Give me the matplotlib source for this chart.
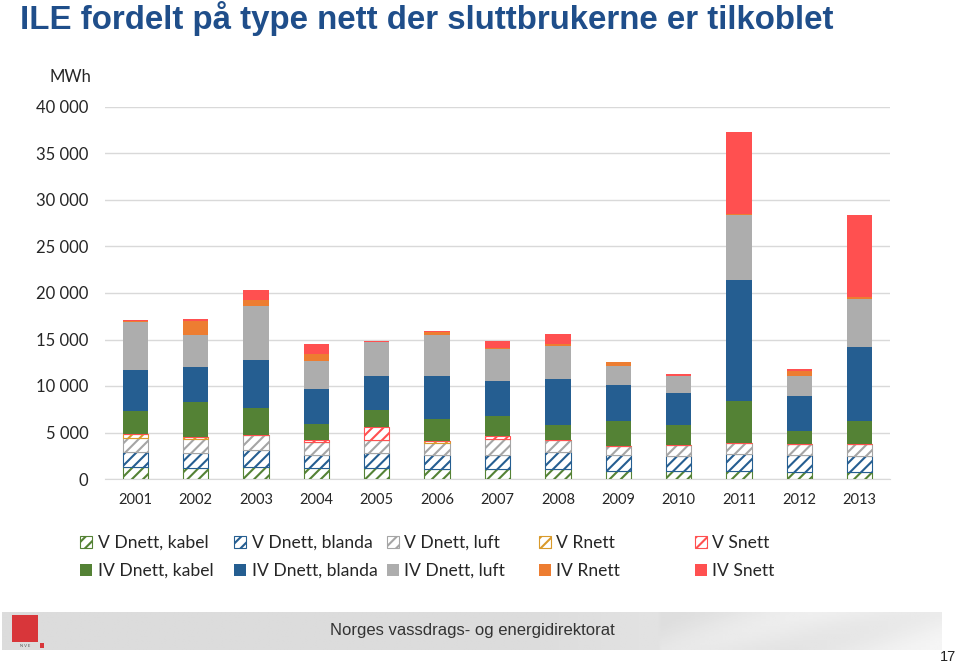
import numpy as np
import matplotlib
matplotlib.use("Agg")
from matplotlib import pyplot as plt
from matplotlib.patches import Rectangle
from matplotlib.ticker import FuncFormatter

# data (MWh)
years = ['2001', '2002', '2003', '2004', '2005', '2006', '2007',
         '2008', '2009', '2010', '2011', '2012', '2013']

v_kabel = [1290, 1210, 1320, 1180, 1210, 1040, 1040, 1110, 820, 860, 860, 720, 720]
v_blanda = [1570, 1570, 1750, 1390, 1540, 1570, 1570, 1820, 1710, 1610, 1790, 1860, 1720]
v_luft = [1570, 1570, 1610, 1360, 1390, 1290, 1640, 1210, 1070, 1180, 1250, 1180, 1320]
v_rnett = [360, 210, 0, 0, 0, 210, 0, 0, 0, 0, 0, 0, 0]
v_snett = [0, 0, 0, 210, 1430, 0, 390, 0, 0, 0, 0, 0, 0]

iv_kabel = [2500, 3710, 2960, 1750, 1820, 2290, 2140, 1710, 2640, 2110, 4510, 1430, 2430]
iv_blanda = [4390, 3790, 5110, 3790, 3680, 4680, 3750, 4860, 3820, 3440, 12960, 3690, 7950]
iv_luft = [5200, 3460, 5890, 2960, 3610, 4390, 3460, 3540, 2140, 1900, 6980, 2150, 5260]
iv_rnett = [80, 1420, 640, 750, 0, 320, 100, 250, 390, 0, 180, 610, 180]
iv_snett = [160, 290, 1040, 1140, 180, 110, 710, 1040, 0, 140, 8800, 210, 8810]

series = [
    ('V Dnett, kabel', v_kabel, '#548235', True),
    ('V Dnett, blanda', v_blanda, '#255E91', True),
    ('V Dnett, luft', v_luft, '#A5A5A5', True),
    ('V Rnett', v_rnett, '#D99A2B', True),
    ('V Snett', v_snett, '#FF5050', True),
    ('IV Dnett, kabel', iv_kabel, '#548235', False),
    ('IV Dnett, blanda', iv_blanda, '#255E91', False),
    ('IV Dnett, luft', iv_luft, '#ADADAD', False),
    ('IV Rnett', iv_rnett, '#ED7D31', False),
    ('IV Snett', iv_snett, '#FF5050', False),
]

plt.rcParams['font.family'] = ['Lato', 'DejaVu Sans']
plt.rcParams['hatch.linewidth'] = 1.5

fig = plt.figure(figsize=(9.6, 6.65), dpi=100)
ax = fig.add_axes([105 / 960, 1 - 479 / 665, 785 / 960, 372 / 665])

x = np.arange(len(years))
bottom = np.zeros(len(years))
handles = []
for label, vals, col, hatched in series:
    vals = np.array(vals, dtype=float)
    if hatched:
        b = ax.bar(x, vals, 0.42, bottom=bottom, facecolor='white', edgecolor=col,
                   hatch='///', linewidth=0.8, label=label, zorder=3)
    else:
        b = ax.bar(x, vals, 0.42, bottom=bottom, color=col, linewidth=0,
                   label=label, zorder=3)
    handles.append(b)
    bottom += vals

ax.set_xlim(-0.5, len(years) - 0.5)
ax.set_ylim(0, 40000)
ax.set_yticks(np.arange(0, 40001, 5000))
ax.yaxis.set_major_formatter(FuncFormatter(lambda v, p: f"{int(v):,}".replace(',', ' ')))
ax.set_xticks(x)
ax.set_xticklabels(years)
ax.tick_params(axis='y', length=0, pad=12, labelsize=12, labelcolor='#262626')
ax.tick_params(axis='x', length=0, pad=10, labelsize=10.5, labelcolor='#262626')
ax.grid(axis='y', color='#D9D9D9', linewidth=1, zorder=0)
ax.set_axisbelow(True)
for s in ['left', 'right', 'top']:
    ax.spines[s].set_visible(False)
ax.spines['bottom'].set_color('#D9D9D9')

fig.text(91 / 960, 1 - 77 / 665, 'MWh', ha='right', va='center', fontsize=12, color='#262626')

fig.text(20 / 960, 1 - 19 / 665, 'ILE fordelt på type nett der sluttbrukerne er tilkoblet',
         ha='left', va='center', fontsize=23.8, fontweight='bold', color='#1F4E8A',
         family=['Liberation Sans', 'DejaVu Sans'])

# legend: five fixed-width columns, V on top row, IV below
col_x = [80, 234, 387, 539, 695]
for i in range(5):
    fig.legend([handles[i], handles[i + 5]], [series[i][0], series[i + 5][0]],
               loc='upper left', bbox_to_anchor=(col_x[i] / 960, 1 - 535 / 665),
               frameon=False, fontsize=12.6, handlelength=0.7, handleheight=0.7,
               handletextpad=0.3, labelspacing=0.68, borderpad=0, borderaxespad=0,
               labelcolor='#262626')

# footer band
fax = fig.add_axes([2 / 960, 1 - 650 / 665, 940 / 960, 38 / 665])
gx = np.linspace(0, 1, 200)
gy = np.linspace(0, 1, 20)
GX, GY = np.meshgrid(gx, gy)
grad = 0.86 + 0.08 * np.clip((GX - 0.55) / 0.45, 0, 1) + 0.02 * np.sin((GX * 8 + GY) * 3) * (GX > 0.7)
fax.imshow(grad, cmap='gray', vmin=0, vmax=1, aspect='auto', extent=[0, 1, 0, 1])
fax.set_axis_off()

fig.patches.append(Rectangle((12 / 960, 1 - 642 / 665), 26 / 960, 27 / 665,
                             transform=fig.transFigure, facecolor='#D8363A', edgecolor='none', zorder=5))
fig.patches.append(Rectangle((40 / 960, 1 - 648 / 665), 4 / 960, 5 / 665,
                             transform=fig.transFigure, facecolor='#D8363A', edgecolor='none', zorder=5))
fig.text(25 / 960, 1 - 646 / 665, 'N V E', ha='center', va='center', fontsize=3, color='#555555')
fig.text(472 / 960, 1 - 630 / 665, 'Norges vassdrags- og energidirektorat', ha='center', va='center',
         fontsize=12, color='#333333', family=['Liberation Sans Narrow', 'Liberation Sans', 'DejaVu Sans'])
fig.text(948 / 960, 1 - 657 / 665, '17', ha='center', va='center', fontsize=10.5, color='#222222',
         family=['Liberation Sans Narrow', 'Liberation Sans', 'DejaVu Sans'])

fig.savefig('out.png', dpi=100)
